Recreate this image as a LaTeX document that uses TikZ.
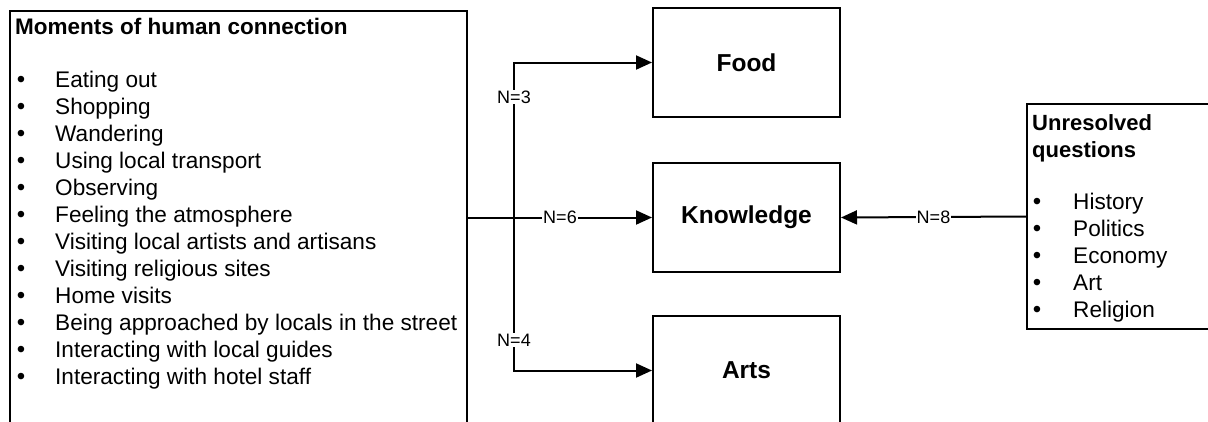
\documentclass[tikz,border=0pt]{standalone}
\usepackage{fontspec}
\setmainfont{Liberation Sans}
\usetikzlibrary{arrows.meta}
\tikzset{
 box/.style={draw, line width=2pt, rectangle, inner sep=0pt, anchor=north west},
 cbox/.style={box, minimum width=187pt, minimum height=109pt, font=\fontsize{24.5}{29}\selectfont\bfseries},
 conn/.style={line width=2pt},
 arr/.style={conn, -{Triangle[length=16pt,width=14pt]}},
 lab/.style={fill=white, inner sep=1pt, font=\fontsize{18}{21}\selectfont},
 itemtxt/.style={anchor=base west, inner sep=0pt, font=\fontsize{22.6}{27}\selectfont},
 titletxt/.style={itemtxt, font=\fontsize{22.5}{27}\selectfont\bfseries},
 bul/.style={anchor=base, inner sep=0pt, font=\fontsize{24}{27}\selectfont},
}
\begin{document}
\begin{tikzpicture}[x=1pt,y=-1pt]
\useasboundingbox (0,0) rectangle (1208,421);
\clip (0,0) rectangle (1208,421);
% boxes
\node[box, minimum width=457pt, minimum height=430pt] (left) at (9,10) {};
\node[cbox] (food) at (652,7) {Food};
\node[cbox] (know) at (652,162) {Knowledge};
\node[cbox] (arts) at (652,315) {Arts};
\node[box, minimum width=200pt, minimum height=225pt] (unres) at (1026,103) {};
% left box text
\node[titletxt] (ltitle) at (15,34) {Moments of human connection};
\foreach \t [count=\i from 0] in {Eating out, Shopping, Wandering, Using local transport, Observing, Feeling the atmosphere, Visiting local artists and artisans, Visiting religious sites, Home visits, Being approached by locals in the street, Interacting with local guides, Interacting with hotel staff}{
  \node[bul] (lb\i) at (21, 87+27*\i) {•};
  \node[itemtxt] (li\i) at (55, 87+27*\i) {\t};
}
% right box text
\node[titletxt, font=\fontsize{22}{27}\selectfont\bfseries] (rtitle1) at (1032,130) {Unresolved};
\node[titletxt, font=\fontsize{22}{27}\selectfont\bfseries] (rtitle2) at (1032,157) {questions};
\foreach \t [count=\i from 0] in {History, Politics, Economy, Art, Religion}{
  \node[bul] (rb\i) at (1037, 209+27*\i) {•};
  \node[itemtxt] (ri\i) at (1073, 209+27*\i) {\t};
}
% connectors
\coordinate (j) at (514,216);
\draw[arr] (left.east |- know.west) -- node[lab] (n6) {N=6} (know.west);
\draw[arr] (j) |- (food.west);
\draw[arr] (j) |- (arts.west);
\node[lab] (n3) at (514,97) {N=3};
\node[lab] (n4) at (514,340) {N=4};
\draw[arr] (unres.west) -- node[lab] (n8) {N=8} (know.east);
\end{tikzpicture}
\end{document}
